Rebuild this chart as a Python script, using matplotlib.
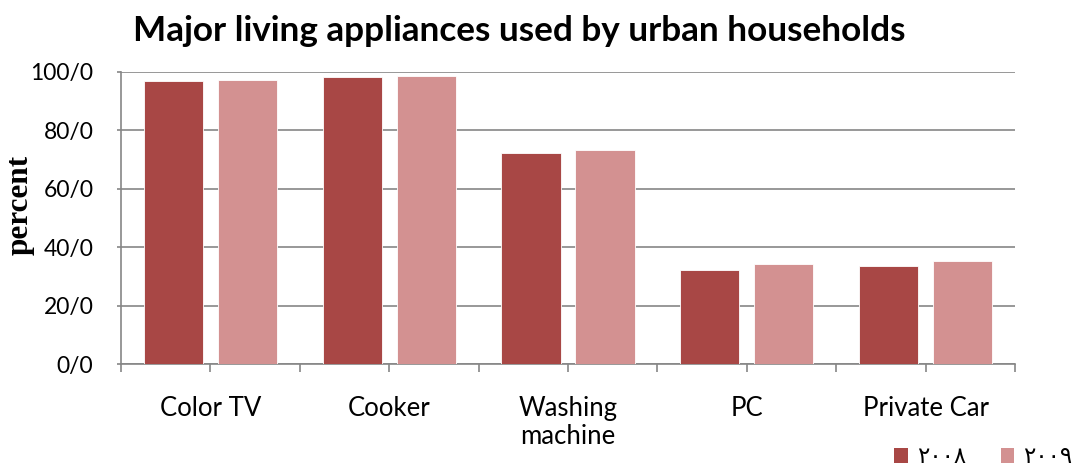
import matplotlib
matplotlib.use("Agg")
import matplotlib.pyplot as plt
import numpy as np
from matplotlib.patches import Patch

categories = ["Color TV", "Cooker", "Washing\nmachine", "PC", "Private Car"]
values_2008 = [97.0, 98.2, 72.2, 32.3, 33.4]
values_2009 = [97.4, 98.5, 73.3, 34.1, 35.4]
series_labels = ["\u0662\u0660\u0660\u0668", "\u0662\u0660\u0660\u0669"]
yticks = [0, 20, 40, 60, 80, 100]
ytick_labels = [f"{v}/0" for v in yticks]

c08 = "#A84745"
c09 = "#D39191"
grid_c = "#868686"

fig = plt.figure(figsize=(10.76, 4.68), dpi=100)
ax = fig.add_axes([0.1125, 0.2222, 0.8308, 0.624])

x = np.arange(len(categories))
w = 0.332
off = 0.207
ax.bar(x - off, values_2008, w, color=c08, edgecolor="white", linewidth=0.6, zorder=3)
ax.bar(x + off, values_2009, w, color=c09, edgecolor="white", linewidth=0.6, zorder=3)

ax.set_xlim(-0.5, len(categories) - 0.5)
ax.set_ylim(0, 100)
ax.set_yticks(yticks)
ax.set_yticklabels(ytick_labels, fontsize=16.5, family="Lato")
ax.set_xticks(x)
ax.set_xticklabels(categories, fontsize=18.5, family="Lato", linespacing=1.15, va="top")
ax.set_xticks(np.arange(-0.5, len(categories), 1.0), minor=True)

ax.yaxis.grid(True, color=grid_c, linewidth=1.2, zorder=0)
ax.set_axisbelow(True)
for s in ["top", "right"]:
    ax.spines[s].set_visible(False)
for s in ["left", "bottom"]:
    ax.spines[s].set_color(grid_c)
    ax.spines[s].set_linewidth(1.2)

ax.tick_params(axis="y", which="major", length=3, color=grid_c, width=1.2, pad=17)
ax.tick_params(axis="x", which="both", length=6, color=grid_c, width=1.2, pad=17)

ax.set_ylabel("percent", family="Liberation Serif", fontweight="bold", fontsize=22.5, labelpad=-3)
ax.yaxis.label.set_y(0.545)

fig.text(0.483, 0.933, "Major living appliances used by urban households",
         ha="center", va="center", fontsize=25.3, fontweight="bold", family="Lato")

handles = [Patch(facecolor=c08), Patch(facecolor=c09)]
fig.legend(handles, series_labels, loc="lower right", bbox_to_anchor=(1.016, -0.045),
           ncol=2, frameon=False, prop={"family": "DejaVu Sans", "size": 16.5},
           handlelength=0.6, handleheight=0.6, handletextpad=0.4, columnspacing=1.5)

fig.savefig("out.png", dpi=100)
